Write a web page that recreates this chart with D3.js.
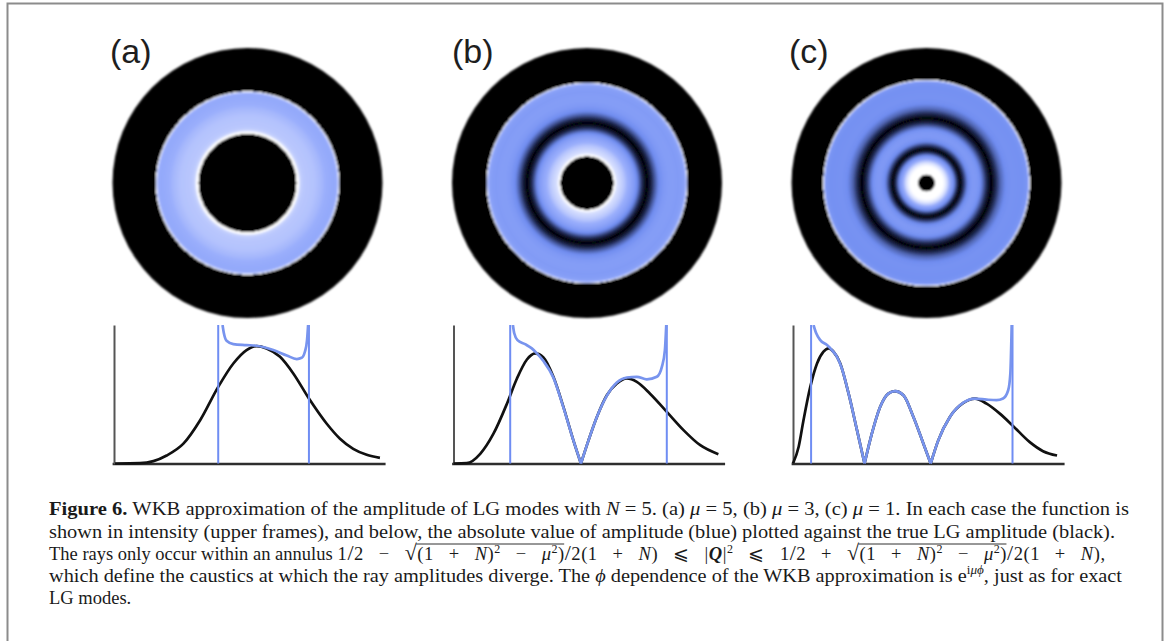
<!DOCTYPE html>
<html><head><meta charset="utf-8">
<script src="https://cdn.jsdelivr.net/npm/d3@7"></script>
<style>html,body{margin:0;padding:0;background:#fff;}svg{display:block;}</style>
</head><body>
<svg id="fig" width="1170" height="641"></svg>
<script>
// ---------- data (normalised: x = radial coordinate 0..1 across plot, y = amplitude 0..1 of plot height) ----------
const panelLabels = ["(a)", "(b)", "(c)"];
const muValues = [5, 3, 1];

const blackA = [[0.004,0],[0.096,0.002],[0.146,0.017],[0.195,0.058],[0.257,0.143],[0.319,0.312],[0.386,0.553],[0.442,0.722],[0.491,0.819],[0.528,0.848],[0.565,0.831],[0.615,0.770],[0.664,0.650],[0.722,0.469],[0.788,0.287],[0.837,0.179],[0.886,0.106],[0.936,0.063],[0.985,0.041]];
const blueA = [[0.402,1.0],[0.407,0.94],[0.417,0.886],[0.442,0.862],[0.491,0.855],[0.528,0.85],[0.590,0.819],[0.640,0.780],[0.677,0.754],[0.695,0.763],[0.707,0.807],[0.715,0.891],[0.719,1.0]];
const causticsA = [0.386, 0.722];

const blackB = [[0,0],[0.049,0.002],[0.099,0.070],[0.148,0.215],[0.198,0.432],[0.235,0.614],[0.272,0.751],[0.303,0.795],[0.333,0.766],[0.370,0.626],[0.407,0.409],[0.444,0.167],[0.472,0],[0.500,0.167],[0.531,0.336],[0.568,0.493],[0.605,0.577],[0.642,0.614],[0.679,0.589],[0.728,0.504],[0.790,0.373],[0.852,0.241],[0.914,0.132],[0.981,0.067]];
const blueB = [[0.220,1.0],[0.225,0.94],[0.237,0.891],[0.265,0.862],[0.290,0.831],[0.309,0.795],[0.333,0.740],[0.370,0.620],[0.407,0.405],[0.444,0.167],[0.472,0],[0.500,0.167],[0.531,0.336],[0.568,0.490],[0.605,0.585],[0.642,0.621],[0.679,0.626],[0.716,0.607],[0.753,0.626],[0.772,0.700],[0.783,0.819],[0.788,1.0]];
const causticsB = [0.210, 0.790];

const blackC = [[0,0],[0.021,0.121],[0.039,0.314],[0.064,0.553],[0.089,0.722],[0.113,0.807],[0.132,0.831],[0.150,0.807],[0.175,0.722],[0.206,0.504],[0.237,0.241],[0.265,0],[0.292,0.215],[0.323,0.409],[0.353,0.504],[0.378,0.522],[0.409,0.493],[0.446,0.336],[0.483,0.143],[0.510,0],[0.538,0.167],[0.581,0.336],[0.631,0.437],[0.674,0.469],[0.717,0.432],[0.766,0.360],[0.813,0.275],[0.877,0.154],[0.926,0.089],[0.978,0.058]];
const blueC = [[0.076,1.0],[0.086,0.94],[0.101,0.891],[0.126,0.855],[0.144,0.819],[0.163,0.770],[0.181,0.686],[0.206,0.504],[0.237,0.241],[0.265,0],[0.292,0.215],[0.323,0.409],[0.353,0.504],[0.378,0.522],[0.409,0.493],[0.446,0.336],[0.483,0.143],[0.510,0],[0.538,0.167],[0.581,0.336],[0.631,0.440],[0.674,0.469],[0.717,0.461],[0.754,0.457],[0.778,0.469],[0.797,0.529],[0.805,0.650],[0.810,1.0]];
const causticsC = [0.067, 0.813];

// intensity colour map (amplitude -> colour)
const cmapStops = [0, 0.2, 0.42, 0.68, 0.85];
const cmapColors = ["#000000", "#1f2850", "#6f8cf0", "#9aaefc", "#ffffff"];
const intensityGain = [0.85, 0.88, 1];

// ---------- layout ----------
const W = 1170, H = 641;
const panelX0 = [114, 453.5, 793];
const plotW = 270, plotTop = 325, plotBase = 463.5;
const diskCY = 183, diskOuterR = 135, diskDX = 133.5, diskRadiusScale = 127;

const panels = [
  {black: blackA, blue: blueA, caustics: causticsA},
  {black: blackB, blue: blueB, caustics: causticsB},
  {black: blackC, blue: blueC, caustics: causticsC}
];

const svg = d3.select("#fig");
const defs = svg.append("defs");
defs.append("filter").attr("id","soft").attr("x","-5%").attr("y","-5%").attr("width","110%").attr("height","110%")
  .append("feGaussianBlur").attr("stdDeviation", 0.8);

// frame
svg.append("path").attr("d", `M7.5,${H} V3.5 H1162.5 V${H}`)
  .attr("fill","none").attr("stroke","#8c8c8c").attr("stroke-width",2);

const cmap = d3.scaleLinear().domain(cmapStops).range(cmapColors).interpolate(d3.interpolateRgb).clamp(true);

function ampAt(data, x) {
  if (x <= data[0][0]) return data[0][1];
  if (x >= data[data.length-1][0]) return data[data.length-1][1];
  const i = d3.bisector(d => d[0]).right(data, x);
  const a = data[i-1], b = data[i];
  const t = (x - a[0]) / (b[0] - a[0]);
  return a[1] + t * (b[1] - a[1]);
}

function splitAtZeros(data) {
  const out = []; let cur = [data[0]];
  for (let i = 1; i < data.length; i++) {
    cur.push(data[i]);
    if (data[i][1] === 0 && i < data.length - 1) { out.push(cur); cur = [data[i]]; }
  }
  out.push(cur);
  return out;
}

panels.forEach((p, k) => {
  const x0 = panelX0[k];
  const x = d3.scaleLinear().domain([0, 1]).range([x0, x0 + plotW]);
  const y = d3.scaleLinear().domain([0, 1]).range([plotBase, plotTop]);
  const cx = x0 + diskDX;
  const rS = d3.scaleLinear().domain([0, 1]).range([0, diskRadiusScale]);

  // ---- disk (intensity) via radial gradient built from the blue amplitude ----
  const gid = "grad" + k;
  const grad = defs.append("radialGradient").attr("id", gid)
    .attr("gradientUnits","userSpaceOnUse").attr("cx", cx).attr("cy", diskCY).attr("r", diskOuterR)
    .attr("fx", cx).attr("fy", diskCY);
  const stops = [];
  const [c1, c2] = p.caustics;
  stops.push([0, "#000"]);
  stops.push([rS(c1) / diskOuterR, "#000"]);
  const n = 260;
  for (let i = 0; i <= n; i++) {
    const xv = c1 + (c2 - c1) * i / n;
    let a = ampAt(p.blue, xv);
    if (xv < p.blue[0][0] || xv > p.blue[p.blue.length-1][0]) a = 1.2;
    stops.push([rS(xv) / diskOuterR, cmap(a * intensityGain[k])]);
  }
  stops.push([rS(c2) / diskOuterR, "#000"]);
  stops.push([1, "#000"]);
  grad.selectAll("stop").data(stops).join("stop")
    .attr("offset", d => Math.min(1, d[0])).attr("stop-color", d => d[1]);

  svg.append("circle").attr("cx", cx).attr("cy", diskCY).attr("r", diskOuterR)
    .attr("fill", `url(#${gid})`).attr("filter","url(#soft)");

  // label
  svg.append("text").attr("x", x0 - (k === 1 ? 1.5 : 4)).attr("y", 63)
    .attr("font-family","Liberation Sans, Arial, sans-serif").attr("font-size", 34)
    .attr("fill","#1e1e1e").text(panelLabels[k]);

  // ---- plot ----
  const g = svg.append("g");
  const cid = "clip" + k;
  defs.append("clipPath").attr("id", cid).append("rect")
    .attr("x", x0 - 4).attr("y", plotTop).attr("width", plotW + 10).attr("height", plotBase - plotTop + 4);

  // axes (no ticks)
  const xa = d3.scaleLinear().domain([-0.007, 1.004]).range([x(-0.007), x(1.004)]);
  const gx = g.append("g").attr("transform", `translate(0,${plotBase})`)
    .call(d3.axisBottom(xa).tickValues([]).tickSizeOuter(0));
  gx.select(".domain").attr("stroke","#2e2e2e").attr("stroke-width",2.4);
  const gy = g.append("g").attr("transform", `translate(${x0},0)`)
    .call(d3.axisLeft(y).tickValues([]).tickSizeOuter(0));
  gy.select(".domain").attr("stroke","#555").attr("stroke-width",2);

  const line = d3.line().x(d => x(d[0])).y(d => y(d[1])).curve(d3.curveMonotoneX);
  const cg = g.append("g").attr("clip-path", `url(#${cid})`);

  cg.append("path").attr("d", splitAtZeros(p.black).map(s => line(s)).join(""))
    .attr("fill","none").attr("stroke","#111").attr("stroke-width",2.7).attr("stroke-linejoin","round");

  cg.selectAll("line.caustic").data(p.caustics).join("line").attr("class","caustic")
    .attr("x1", d => x(d)).attr("x2", d => x(d)).attr("y1", y(1)).attr("y2", plotBase)
    .attr("stroke","#6f8df3").attr("stroke-width",2);

  cg.append("path").attr("d", splitAtZeros(p.blue).map(s => line(s)).join(""))
    .attr("fill","none").attr("stroke","#7894ee").attr("stroke-width",2.7).attr("stroke-linejoin","round");
});

// ---------- caption ----------
const capFont = "Liberation Serif, Times New Roman, serif";
const capSize = 18.5;
function capLine(x0, yb, parts, width, adjust) {
  const t = svg.append("text").attr("x", x0).attr("y", yb)
    .attr("font-family", capFont).attr("font-size", capSize).attr("fill", "#1a1a1a");
  let shift = 0;
  parts.forEach(p => {
    const ts = t.append("tspan").text(p.t);
    if (p.b) ts.attr("font-weight", "bold");
    if (p.i) ts.attr("font-style", "italic");
    if (p.fs) ts.attr("font-size", p.fs);
    if (p.sup) {
      ts.attr("font-size", 12);
      if (shift === 0) { ts.attr("dy", -7.5); shift = -7.5; }
    } else if (shift !== 0) { ts.attr("dy", -shift); shift = 0; }
    if (p.g) ts.attr("data-g", p.g);
  });
  if (width) {
    const nat = t.node().getComputedTextLength();
    t.attr("textLength", width).attr("lengthAdjust", adjust || (Math.abs(nat - width) / width > 0.02 ? "spacingAndGlyphs" : "spacing"));
  }
  return t;
}

const sp = "\u2002\u2005";   // math spacing around operators

capLine(49, 515, [
  {t:"Figure 6.", b:true},
  {t:" WKB approximation of the amplitude of LG modes with "}, {t:"N", i:true}, {t:" = 5. (a) "},
  {t:"μ", i:true}, {t:" = 5, (b) "}, {t:"μ", i:true}, {t:" = 3, (c) "}, {t:"μ", i:true},
  {t:" = 1. In each case the function is"}
], 1080);

capLine(49, 537.5, [
  {t:"shown in intensity (upper frames), and below, the absolute value of amplitude (blue) plotted against the true LG amplitude (black)."}
], 1066);

// line 3: plain words at their natural width, then the formula filling the rest of the line
const y3 = 560;
const t3 = capLine(49, y3, [{t:"The rays only occur within an annulus"}], 0);
const mathX = 49 + t3.node().getComputedTextLength() + 5;
const rad = g => [{t:"(1"+sp+"+"+sp, g}, {t:"N", i:true, g}, {t:")", g}, {t:"2", sup:true, g}, {t:sp+"−"+sp, g}, {t:"μ", i:true, g}, {t:"2", sup:true, g}, {t:")", g}];
const m3 = capLine(mathX, y3, [
  {t:"1"}, {t:"/", fs:22}, {t:"2"+sp+"−"+sp}, {t:"√", fs:22},
  ...rad("r1"),
  {t:"/", fs:22}, {t:"2(1"+sp+"+"+sp}, {t:"N", i:true}, {t:")"+sp+"⩽"+sp+"|"}, {t:"Q", i:true, b:true}, {t:"|"}, {t:"2", sup:true},
  {t:sp+"⩽"+sp+"1"}, {t:"/", fs:22}, {t:"2"+sp+"+"+sp}, {t:"√", fs:22},
  ...rad("r2"),
  {t:"/", fs:22}, {t:"2(1"+sp+"+"+sp}, {t:"N", i:true}, {t:"),"}
], 1105 - mathX, "spacing");

["r1","r2"].forEach(gname => {
  const nodes = m3.selectAll(`tspan[data-g="${gname}"]`).nodes();
  let xmin = Infinity, xmax = -Infinity;
  nodes.forEach(nd => { const b = nd.getBBox(); xmin = Math.min(xmin, b.x); xmax = Math.max(xmax, b.x + b.width); });
  svg.append("line").attr("x1", xmin - 1).attr("x2", xmax).attr("y1", y3 - 16).attr("y2", y3 - 16)
    .attr("stroke", "#1a1a1a").attr("stroke-width", 0.9);
});

capLine(49, 581.7, [
  {t:"which define the caustics at which the ray amplitudes diverge. The "}, {t:"ϕ", i:true},
  {t:" dependence of the WKB approximation is e"}, {t:"i", sup:true}, {t:"μϕ", sup:true, i:true},
  {t:", just as for exact"}
], 1073);

capLine(49, 603.5, [{t:"LG modes."}], 0);
</script>
</body></html>
